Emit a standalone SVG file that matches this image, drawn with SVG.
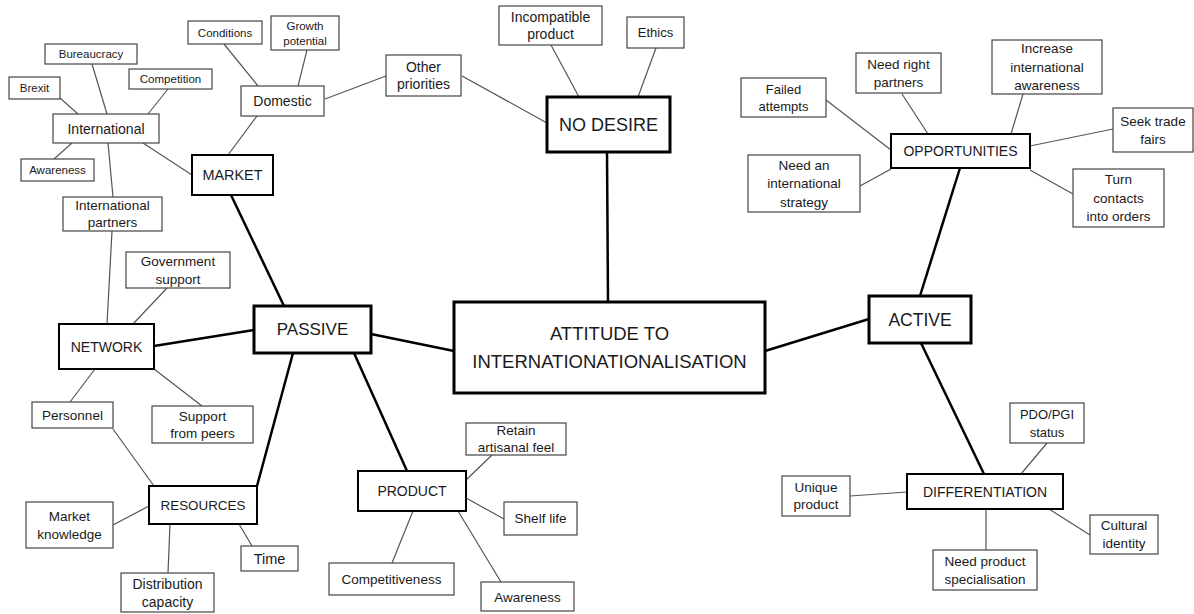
<svg xmlns="http://www.w3.org/2000/svg" width="1194" height="614" viewBox="0 0 1194 614">
<style>
rect{fill:#fff}
.l1{stroke:#000;stroke-width:3}
.l2{stroke:#000;stroke-width:2}
.l3{stroke:#444;stroke-width:1.2}
text{font-family:"Liberation Sans",Arial,sans-serif;fill:#1a1a1a;text-anchor:middle;dominant-baseline:central;font-size:13.5px}
.t1{font-size:18px}
.t2{font-size:14px}
.ts{font-size:11.5px}
#connectors .thick{stroke:#000;stroke-width:2.5;fill:none}
#connectors .thin{stroke:#555;stroke-width:1.2;fill:none}
</style>
<rect x="0" y="0" width="1194" height="614" style="fill:#fff"/>
<g id="connectors">
<g class="thick">
<line x1="607" y1="152" x2="608" y2="302"/>
<line x1="371" y1="334" x2="454" y2="351"/>
<line x1="765" y1="351" x2="869" y2="319"/>
<line x1="231" y1="195" x2="284" y2="306"/>
<line x1="154" y1="346" x2="254" y2="330"/>
<line x1="293" y1="353" x2="257" y2="486"/>
<line x1="354" y1="353" x2="407" y2="471"/>
<line x1="960" y1="168" x2="920" y2="296"/>
<line x1="921" y1="343" x2="984" y2="474"/>
</g>
<g class="thin">
<line x1="224" y1="44" x2="258" y2="86"/>
<line x1="307" y1="50" x2="298" y2="86"/>
<line x1="325" y1="99" x2="386" y2="76"/>
<line x1="257" y1="116" x2="228" y2="155"/>
<line x1="60" y1="98" x2="78" y2="114"/>
<line x1="92" y1="64" x2="107" y2="114"/>
<line x1="168" y1="89" x2="148" y2="114"/>
<line x1="72" y1="143" x2="54" y2="159"/>
<line x1="143" y1="143" x2="192" y2="175"/>
<line x1="108" y1="143" x2="113" y2="197"/>
<line x1="462" y1="76" x2="547" y2="123"/>
<line x1="551" y1="45" x2="579" y2="97"/>
<line x1="656" y1="48" x2="638" y2="97"/>
<line x1="826" y1="100" x2="891" y2="150"/>
<line x1="902" y1="94" x2="928" y2="134"/>
<line x1="1023" y1="94" x2="1011" y2="134"/>
<line x1="1113" y1="129" x2="1030" y2="146"/>
<line x1="860" y1="186" x2="891" y2="169"/>
<line x1="1073" y1="194" x2="1030" y2="170"/>
<line x1="112" y1="231" x2="107" y2="324"/>
<line x1="167" y1="288" x2="133" y2="324"/>
<line x1="95" y1="369" x2="70" y2="402"/>
<line x1="154" y1="369" x2="202" y2="406"/>
<line x1="113" y1="429" x2="154" y2="486"/>
<line x1="113" y1="525" x2="149" y2="506"/>
<line x1="170" y1="524" x2="168" y2="573"/>
<line x1="239" y1="524" x2="252" y2="546"/>
<line x1="492" y1="455" x2="466" y2="480"/>
<line x1="466" y1="498" x2="504" y2="519"/>
<line x1="413" y1="511" x2="392" y2="563"/>
<line x1="458" y1="511" x2="501" y2="582"/>
<line x1="1047" y1="443" x2="1021" y2="474"/>
<line x1="850" y1="496" x2="907" y2="492"/>
<line x1="1049" y1="509" x2="1090" y2="535"/>
<line x1="986" y1="509" x2="986" y2="550"/>
</g>
</g>

<g id="center"><rect class="l1" x="454" y="302" width="311" height="91"/><text class="t1" x="609.5" y="333" style="font-size:18.5px">ATTITUDE TO</text><text class="t1" x="609.5" y="361" style="font-size:18.5px">INTERNATIONATIONALISATION</text></g>
<g id="passive"><rect class="l1" x="254" y="306" width="117" height="47"/><text class="t1" x="312.5" y="329.5" style="font-size:17px">PASSIVE</text></g>
<g id="active"><rect class="l1" x="869" y="296" width="102" height="47"/><text class="t1" x="920" y="319.5" style="font-size:17.5px">ACTIVE</text></g>
<g id="nodesire"><rect class="l1" x="547" y="97" width="123" height="55"/><text class="t1" x="608.5" y="124.5">NO DESIRE</text></g>

<g id="market"><rect class="l2" x="192" y="155" width="81" height="40"/><text class="t2" x="232.5" y="175" style="font-size:14.4px">MARKET</text></g>
<g id="network"><rect class="l2" x="59" y="324" width="95" height="45"/><text class="t2" x="106.5" y="346.5">NETWORK</text></g>
<g id="resources"><rect class="l2" x="149" y="486" width="108" height="38"/><text class="t2" x="203" y="505" style="font-size:13.4px">RESOURCES</text></g>
<g id="product"><rect class="l2" x="358" y="471" width="108" height="40"/><text class="t2" x="412" y="491">PRODUCT</text></g>
<g id="opportunities"><rect class="l2" x="891" y="134" width="139" height="34"/><text class="t2" x="960.5" y="151">OPPORTUNITIES</text></g>
<g id="differentiation"><rect class="l2" x="907" y="474" width="156" height="35"/><text class="t2" x="985" y="491.5">DIFFERENTIATION</text></g>

<g id="international"><rect class="l3" x="53" y="114" width="106" height="29"/><text class="t2" x="106" y="128.5">International</text></g>
<g id="domestic"><rect class="l3" x="241" y="86" width="83" height="30"/><text class="t2" x="282.5" y="101">Domestic</text></g>

<g id="conditions"><rect class="l3" x="188" y="21" width="74" height="23"/><text class="ts" x="225" y="32.5">Conditions</text></g>
<g id="growth"><rect class="l3" x="271" y="16" width="68" height="34"/><text class="ts" x="305" y="25.5">Growth</text><text class="ts" x="305" y="40.5">potential</text></g>
<g id="bureaucracy"><rect class="l3" x="45" y="44" width="92" height="20"/><text class="ts" x="91" y="54">Bureaucracy</text></g>
<g id="competition"><rect class="l3" x="129" y="69" width="83" height="20"/><text class="ts" x="170.5" y="79">Competition</text></g>
<g id="brexit"><rect class="l3" x="9" y="77" width="51" height="22"/><text class="ts" x="34.5" y="88">Brexit</text></g>
<g id="awareness1"><rect class="l3" x="21" y="159" width="73" height="22"/><text class="ts" x="57.5" y="170">Awareness</text></g>
<g id="intpartners"><rect class="l3" x="63" y="197" width="99" height="34"/><text x="112.5" y="205">International</text><text x="112.5" y="222.5">partners</text></g>

<g id="otherpriorities"><rect class="l3" x="386" y="55" width="75" height="41"/><text x="423.5" y="66.5" style="font-size:14px">Other</text><text x="423.5" y="84" style="font-size:14px">priorities</text></g>
<g id="incompatible"><rect class="l3" x="499" y="6" width="103" height="39"/><text x="550.5" y="16.5" style="font-size:14px">Incompatible</text><text x="550.5" y="34" style="font-size:14px">product</text></g>
<g id="ethics"><rect class="l3" x="627" y="17" width="57" height="31"/><text x="655.5" y="32.5" style="font-size:13px">Ethics</text></g>

<g id="failed"><rect class="l3" x="741" y="78" width="85" height="39"/><text x="783.5" y="89" style="font-size:13px">Failed</text><text x="783.5" y="106.5" style="font-size:13px">attempts</text></g>
<g id="rightpartners"><rect class="l3" x="856" y="53" width="85" height="40"/><text x="898.5" y="64.5">Need right</text><text x="898.5" y="82">partners</text></g>
<g id="increase"><rect class="l3" x="992" y="40" width="110" height="54"/><text x="1047" y="48.5">Increase</text><text x="1047" y="67">international</text><text x="1047" y="85.5">awareness</text></g>
<g id="seek"><rect class="l3" x="1113" y="108" width="80" height="44"/><text x="1153" y="121">Seek trade</text><text x="1153" y="139">fairs</text></g>
<g id="strategy"><rect class="l3" x="748" y="155" width="112" height="57"/><text x="804" y="165">Need an</text><text x="804" y="183.5">international</text><text x="804" y="202">strategy</text></g>
<g id="turn"><rect class="l3" x="1073" y="169" width="91" height="58"/><text x="1118.5" y="179.5">Turn</text><text x="1118.5" y="198">contacts</text><text x="1118.5" y="216.5">into orders</text></g>

<g id="government"><rect class="l3" x="126" y="252" width="104" height="36"/><text x="178" y="261.5">Government</text><text x="178" y="279">support</text></g>
<g id="personnel"><rect class="l3" x="32" y="402" width="81" height="26"/><text x="72.5" y="415">Personnel</text></g>
<g id="peers"><rect class="l3" x="152" y="406" width="101" height="37"/><text x="202.5" y="416">Support</text><text x="202.5" y="433">from peers</text></g>
<g id="marketknowledge"><rect class="l3" x="26" y="502" width="87" height="46"/><text x="69.5" y="516.5">Market</text><text x="69.5" y="534">knowledge</text></g>
<g id="time"><rect class="l3" x="241" y="546" width="57" height="25"/><text x="269.5" y="558.5" style="font-size:14.5px">Time</text></g>
<g id="distribution"><rect class="l3" x="121" y="573" width="93" height="39"/><text x="167.5" y="583.5" style="font-size:14px">Distribution</text><text x="167.5" y="601.5" style="font-size:14px">capacity</text></g>

<g id="retain"><rect class="l3" x="466" y="423" width="100" height="32"/><text x="516" y="430">Retain</text><text x="516" y="447.5">artisanal feel</text></g>
<g id="shelflife"><rect class="l3" x="504" y="502" width="73" height="33"/><text x="540.5" y="518.5">Shelf life</text></g>
<g id="competitiveness"><rect class="l3" x="329" y="563" width="125" height="32"/><text x="391.5" y="579">Competitiveness</text></g>
<g id="awareness2"><rect class="l3" x="481" y="582" width="93" height="29"/><text x="527.5" y="597">Awareness</text></g>

<g id="pdo"><rect class="l3" x="1010" y="403" width="74" height="40"/><text x="1047" y="414" style="font-size:13px">PDO/PGI</text><text x="1047" y="432" style="font-size:13px">status</text></g>
<g id="unique"><rect class="l3" x="782" y="476" width="68" height="40"/><text x="816" y="487">Unique</text><text x="816" y="504.5">product</text></g>
<g id="cultural"><rect class="l3" x="1090" y="515" width="68" height="39"/><text x="1124" y="525.5">Cultural</text><text x="1124" y="543">identity</text></g>
<g id="specialisation"><rect class="l3" x="933" y="550" width="104" height="40"/><text x="985" y="561">Need product</text><text x="985" y="579">specialisation</text></g>
</svg>
